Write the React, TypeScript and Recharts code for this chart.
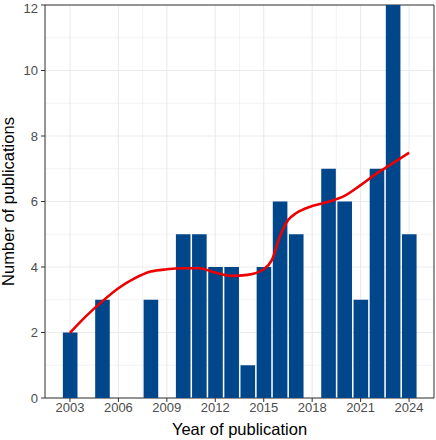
import React from "react";
import {
  ComposedChart,
  Bar,
  Line,
  XAxis,
  YAxis,
  CartesianGrid,
  ReferenceArea,
} from "recharts";

// publications per year
const years = [
  2003, 2004, 2005, 2006, 2007, 2008, 2009, 2010, 2011, 2012, 2013, 2014,
  2015, 2016, 2017, 2018, 2019, 2020, 2021, 2022, 2023, 2024,
];
const counts = [2, 0, 3, 0, 0, 3, 0, 5, 5, 4, 4, 1, 4, 6, 5, 0, 7, 6, 3, 7, 12, 5];

// smoothed trend
const smoothYears = [
  2003, 2004, 2005, 2006, 2007, 2008, 2009, 2010, 2011, 2012, 2013, 2014,
  2015, 2015.5, 2016, 2016.5, 2017, 2018, 2019, 2020, 2021, 2022, 2023, 2024,
];
const smoothValues = [
  1.99, 2.5, 2.95, 3.35, 3.65, 3.86, 3.93, 3.96, 3.96, 3.83, 3.73, 3.76, 3.93,
  4.21, 4.93, 5.43, 5.64, 5.86, 5.99, 6.17, 6.5, 6.86, 7.17, 7.49,
];

const xTicks = [2003, 2006, 2009, 2012, 2015, 2018, 2021, 2024];
const xMinor = [2001.5, 2004.5, 2007.5, 2010.5, 2013.5, 2016.5, 2019.5, 2022.5, 2025.5];
const yTicks = [0, 2, 4, 6, 8, 10, 12];
const yMinor = [1, 3, 5, 7, 9, 11];

const xDomain = [2001.455, 2025.545];

const barData = years.map((year, i) => ({ year, count: counts[i] }));
const smoothData = smoothYears.map((year, i) => ({ year, smooth: smoothValues[i] }));

const font = "'Liberation Sans', Arial, sans-serif";
const tickStyle = { fontSize: 13, fill: "#4D4D4D", fontFamily: font };

export default function App() {
  return (
    <div style={{ position: "absolute", left: 0, top: 0 }}>
      <ComposedChart
        width={436}
        height={440}
        data={barData}
        margin={{ top: 5, right: 2, bottom: 0, left: 0 }}
      >
        <CartesianGrid
          stroke="#EBEBEB"
          strokeWidth={0.6}
          horizontalValues={yMinor}
          verticalValues={xMinor}
        />
        <CartesianGrid
          stroke="#EBEBEB"
          strokeWidth={1.1}
          horizontalValues={yTicks}
          verticalValues={xTicks}
        />
        <XAxis
          dataKey="year"
          type="number"
          domain={xDomain}
          ticks={xTicks}
          allowDataOverflow
          height={42}
          tick={tickStyle}
          tickSize={4}
          tickMargin={1}
          axisLine={false}
          tickLine={{ stroke: "#333333" }}
          label={{
            value: "Year of publication",
            position: "insideBottom",
            offset: 5,
            style: { fontSize: 16.5, fill: "#000", fontFamily: font },
          }}
        />
        {/* separate hidden axis so the half-year curve points don't shrink the bars */}
        <XAxis
          xAxisId="smooth"
          dataKey="year"
          type="number"
          domain={xDomain}
          allowDataOverflow
          hide
        />
        <YAxis
          type="number"
          domain={[0, 12]}
          ticks={yTicks}
          allowDataOverflow
          width={45}
          tick={tickStyle}
          tickSize={4}
          tickMargin={3}
          axisLine={false}
          tickLine={{ stroke: "#333333" }}
          label={{
            value: "Number of publications",
            angle: -90,
            position: "insideLeft",
            offset: 0,
            dx: 8,
            style: { fontSize: 16.5, fill: "#000", fontFamily: font, textAnchor: "middle" },
          }}
        />
        <Bar dataKey="count" fill="#00468B" barSize={14.6} isAnimationActive={false} />
        <Line
          xAxisId="smooth"
          data={smoothData}
          dataKey="smooth"
          type="monotone"
          stroke="#ED0000"
          strokeWidth={2.6}
          dot={false}
          activeDot={false}
          isAnimationActive={false}
        />
        <ReferenceArea
          x1={xDomain[0]}
          x2={xDomain[1]}
          y1={0}
          y2={12}
          fill="none"
          stroke="#333333"
          strokeWidth={1}
          ifOverflow="visible"
        />
      </ComposedChart>
    </div>
  );
}
